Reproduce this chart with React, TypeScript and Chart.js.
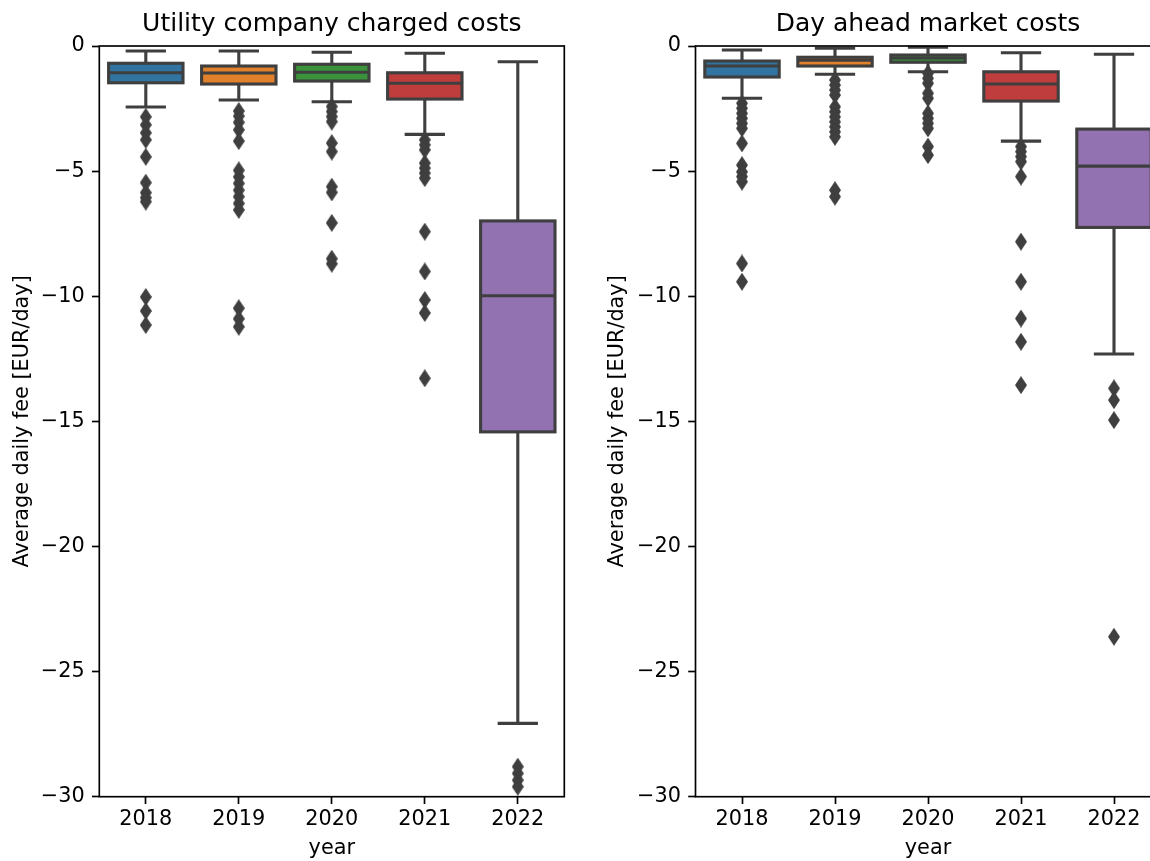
import React, { useEffect, useRef } from 'react';
import { Chart, registerables } from 'chart.js';

Chart.register(...registerables);

// ---------- data ----------
const years = ['2018', '2019', '2020', '2021', '2022'];
const yTickValues = [0, -5, -10, -15, -20, -25, -30];

// Utility company charged costs
const utilQ1 = [-1.47, -1.52, -1.40, -2.12, -15.42];
const utilQ3 = [-0.69, -0.80, -0.73, -1.07, -6.99];
const utilMedian = [-1.07, -1.08, -1.05, -1.49, -9.98];
const utilWhiskerHigh = [-0.20, -0.20, -0.25, -0.29, -0.63];
const utilWhiskerLow = [-2.44, -2.16, -2.23, -3.53, -27.07];
const utilOutliers2018 = [-2.83, -3.15, -3.47, -3.75, -4.43, -5.46, -5.86, -6.06, -6.22, -10.03, -10.59, -11.15];
const utilOutliers2019 = [-2.6, -2.8, -3.05, -3.35, -3.8, -4.97, -5.23, -5.49, -5.76, -6.02, -6.29, -6.55, -10.48, -10.9, -11.22];
const utilOutliers2020 = [-2.42, -2.62, -2.82, -3.02, -3.88, -4.22, -5.62, -5.85, -7.07, -8.50, -8.70];
const utilOutliers2021 = [-3.75, -3.95, -4.15, -4.68, -4.88, -5.08, -5.28, -7.42, -9.01, -10.15, -10.67, -13.28];
const utilOutliers2022 = [-28.8, -29.07, -29.34, -29.6];

// Day ahead market costs
const dayQ1 = [-1.24, -0.80, -0.65, -2.20, -7.25];
const dayQ3 = [-0.60, -0.45, -0.36, -1.03, -3.32];
const dayMedian = [-0.80, -0.57, -0.48, -1.52, -4.80];
const dayWhiskerHigh = [-0.16, -0.09, -0.05, -0.27, -0.33];
const dayWhiskerLow = [-2.09, -1.13, -1.03, -3.80, -12.31];
const dayOutliers2018 = [-2.29, -2.49, -2.69, -2.89, -3.09, -3.29, -3.89, -4.76, -5.03, -5.22, -5.42, -8.69, -9.42];
const dayOutliers2019 = [-1.36, -1.56, -1.76, -1.96, -2.43, -2.63, -2.83, -3.03, -3.23, -3.43, -3.63, -5.76, -6.02];
const dayOutliers2020 = [-1.09, -1.29, -1.49, -1.89, -2.09, -2.69, -2.89, -3.09, -3.29, -4.02, -4.36];
const dayOutliers2021 = [-4.02, -4.22, -4.42, -4.62, -5.22, -7.82, -9.42, -10.89, -11.82, -13.55];
const dayOutliers2022 = [-13.68, -14.15, -14.95, -23.61];

// ---------- styles ----------
const FONT = 'DejaVu Sans';
const LINE = '#3f3f3f';
const boxColors = ['#3274a1', '#e1812c', '#3a923a', '#c03d3e', '#9372b2'];

function makeDiamond(): HTMLCanvasElement {
  const c = document.createElement('canvas');
  c.width = 12;
  c.height = 18;
  const g = c.getContext('2d')!;
  g.fillStyle = LINE;
  g.beginPath();
  g.moveTo(6, 0);
  g.lineTo(12, 9);
  g.lineTo(6, 18);
  g.lineTo(0, 9);
  g.closePath();
  g.fill();
  return c;
}

type Stats = {
  q1: number[];
  q3: number[];
  med: number[];
  lo: number[];
  hi: number[];
  outliers: number[][];
};

function makeBoxPlugin(s: Stats) {
  return {
    id: 'boxExtras',
    beforeDatasetsDraw(chart: any) {
      const { ctx } = chart;
      const y = chart.scales.y;
      const meta = chart.getDatasetMeta(0);
      ctx.save();
      ctx.strokeStyle = LINE;
      ctx.lineWidth = 3.1;
      ctx.lineCap = 'square';
      meta.data.forEach((bar: any, i: number) => {
        const x = bar.x;
        const w = bar.width;
        const ph = y.getPixelForValue(s.hi[i]);
        const pl = y.getPixelForValue(s.lo[i]);
        const p3 = y.getPixelForValue(s.q3[i]);
        const p1 = y.getPixelForValue(s.q1[i]);
        ctx.beginPath();
        ctx.moveTo(x, p3);
        ctx.lineTo(x, ph);
        ctx.moveTo(x, p1);
        ctx.lineTo(x, pl);
        ctx.moveTo(x - w / 4, ph);
        ctx.lineTo(x + w / 4, ph);
        ctx.moveTo(x - w / 4, pl);
        ctx.lineTo(x + w / 4, pl);
        ctx.stroke();
      });
      ctx.restore();
    },
    afterDatasetsDraw(chart: any) {
      const { ctx } = chart;
      const y = chart.scales.y;
      const meta = chart.getDatasetMeta(0);
      ctx.save();
      ctx.strokeStyle = LINE;
      ctx.lineWidth = 3.1;
      ctx.lineJoin = 'miter';
      ctx.lineCap = 'butt';
      meta.data.forEach((bar: any, i: number) => {
        const x = bar.x;
        const w = bar.width;
        const p3 = y.getPixelForValue(s.q3[i]);
        const p1 = y.getPixelForValue(s.q1[i]);
        const pm = y.getPixelForValue(s.med[i]);
        ctx.strokeRect(x - w / 2, p3, w, p1 - p3);
        ctx.beginPath();
        ctx.moveTo(x - w / 2, pm);
        ctx.lineTo(x + w / 2, pm);
        ctx.stroke();
      });
      ctx.restore();
    },
    afterDraw(chart: any) {
      const { ctx, chartArea } = chart;
      ctx.save();
      ctx.strokeStyle = '#000';
      ctx.lineWidth = 1.67;
      ctx.strokeRect(chartArea.left, chartArea.top, chartArea.right - chartArea.left, chartArea.bottom - chartArea.top);
      ctx.restore();
    },
  };
}

type PanelProps = {
  title: string;
  stats: Stats;
  left: number;
  yAxisWidth: number;
  yTitlePad: number;
  padRight: number;
};

function Panel({ title, stats, left, yAxisWidth, yTitlePad, padRight }: PanelProps) {
  const ref = useRef<HTMLCanvasElement>(null);
  useEffect(() => {
    if (!ref.current) return;
    const diamond = makeDiamond();
    const outlierPoints: { x: string; y: number }[] = [];
    stats.outliers.forEach((arr, i) => arr.forEach((v) => outlierPoints.push({ x: years[i], y: v })));
    const tickFont = { family: FONT, size: 20.8 };
    const chart = new Chart(ref.current, {
      type: 'bar',
      data: {
        labels: years,
        datasets: [
          {
            type: 'bar',
            data: years.map((_, i) => [stats.q1[i], stats.q3[i]]) as any,
            backgroundColor: boxColors,
            borderWidth: 0,
            barPercentage: 0.8,
            categoryPercentage: 1.0,
            order: 2,
          } as any,
          {
            type: 'line',
            data: outlierPoints as any,
            showLine: false,
            pointStyle: diamond as any,
            pointRadius: 5,
            pointHoverRadius: 5,
            order: 1,
          } as any,
        ],
      },
      options: {
        animation: false,
        responsive: false,
        maintainAspectRatio: false,
        devicePixelRatio: 1,
        layout: { padding: { left: 0, right: padRight, top: 0, bottom: 0 } },
        plugins: {
          legend: { display: false },
          tooltip: { enabled: false },
          title: {
            display: true,
            text: title,
            fullSize: false,
            color: '#000',
            font: { family: FONT, size: 25, weight: 'normal' },
            padding: { top: 9.6, bottom: 6.4 },
          } as any,
        },
        scales: {
          x: {
            type: 'category',
            offset: true,
            grid: {
              display: true,
              drawOnChartArea: false,
              offset: false,
              tickLength: 7.3,
              tickWidth: 1.67,
              tickColor: '#000',
            },
            border: { display: false },
            ticks: { font: tickFont, color: '#000', padding: 3.5, maxRotation: 0 },
            title: {
              display: true,
              text: 'year',
              color: '#000',
              font: { family: FONT, size: 20.8 },
              padding: { top: 0, bottom: 0 },
            },
            afterFit: (s: any) => {
              s.height = 64.3;
            },
          } as any,
          y: {
            type: 'linear',
            min: -30,
            max: 0,
            grid: {
              display: true,
              drawOnChartArea: false,
              tickLength: 7.3,
              tickWidth: 1.67,
              tickColor: '#000',
            },
            border: { display: false },
            afterBuildTicks: (s: any) => {
              s.ticks = yTickValues.map((v) => ({ value: v }));
            },
            ticks: {
              font: tickFont,
              color: '#000',
              padding: 7.3,
              callback: (v: any) => (Number(v) < 0 ? '\u2212' + Math.abs(Number(v)) : String(v)),
            },
            title: {
              display: true,
              text: 'Average daily fee [EUR/day]',
              color: '#000',
              font: { family: FONT, size: 20.8 },
              padding: { top: yTitlePad, bottom: 0 },
            },
            afterFit: (s: any) => {
              s.width = yAxisWidth;
            },
          } as any,
        },
      },
      plugins: [makeBoxPlugin(stats)],
    });
    return () => chart.destroy();
  }, []);
  return (
    <canvas
      ref={ref}
      width={600}
      height={861}
      style={{ position: 'absolute', left, top: 0, width: 600, height: 861, display: 'block' }}
    />
  );
}

export default function App() {
  const utilStats: Stats = {
    q1: utilQ1,
    q3: utilQ3,
    med: utilMedian,
    lo: utilWhiskerLow,
    hi: utilWhiskerHigh,
    outliers: [utilOutliers2018, utilOutliers2019, utilOutliers2020, utilOutliers2021, utilOutliers2022],
  };
  const dayStats: Stats = {
    q1: dayQ1,
    q3: dayQ3,
    med: dayMedian,
    lo: dayWhiskerLow,
    hi: dayWhiskerHigh,
    outliers: [dayOutliers2018, dayOutliers2019, dayOutliers2020, dayOutliers2021, dayOutliers2022],
  };
  return (
    <div
      style={{
        position: 'fixed',
        left: 0,
        top: 0,
        width: 1150,
        height: 861,
        overflow: 'hidden',
        background: '#fff',
      }}
    >
      <Panel title="Utility company charged costs" stats={utilStats} left={0} yAxisWidth={99.3} yTitlePad={10.5} padRight={35.7} />
      <Panel title="Day ahead market costs" stats={dayStats} left={600} yAxisWidth={95.5} yTitlePad={5.5} padRight={39.5} />
    </div>
  );
}
